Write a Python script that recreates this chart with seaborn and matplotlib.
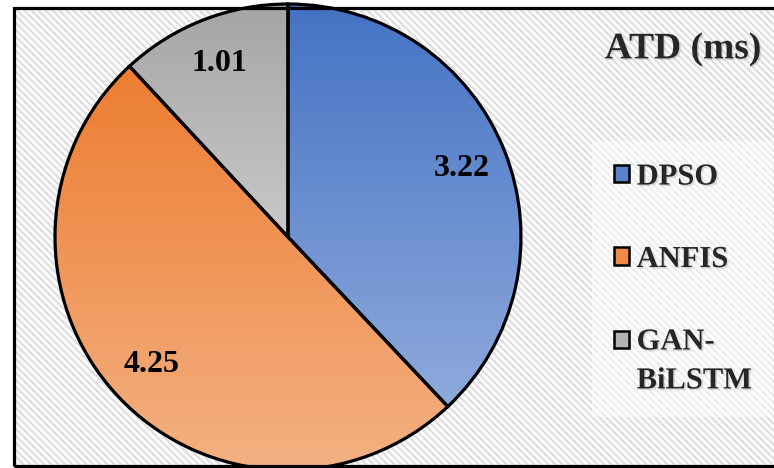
import numpy as np
import matplotlib
matplotlib.use("Agg")
import matplotlib.pyplot as plt
import matplotlib.patheffects as pe
from matplotlib.patches import Patch, Rectangle
from matplotlib.legend_handler import HandlerPatch
import seaborn as sns

# chart data
methods = ["DPSO", "ANFIS", "GAN-BiLSTM"]
legend_labels = ["DPSO", "ANFIS", "GAN-\nBiLSTM"]
atd_ms = [3.22, 4.25, 1.01]
chart_title = "ATD (ms)"

# gradient fill colours for each slice (top -> bottom)
top_colors = ["#4472C4", "#ED7D31", "#A5A5A5"]
bottom_colors = ["#8FAADC", "#F4B183", "#C9C9C9"]
swatch_colors = ["#5A82CC", "#EF8A48", "#B2B2B2"]

sns.set_theme(style="white")
plt.rcParams["font.family"] = ["Liberation Serif", "DejaVu Serif"]
plt.rcParams["font.weight"] = "bold"

W, H = 774, 468
fig = plt.figure(figsize=(W / 100, H / 100), dpi=100)

# striped background inside the frame
bg = fig.add_axes([13 / W, 2 / H, 1 - 13 / W, 459 / H])
yy, xx = np.mgrid[0:459, 0:761]
stripes = np.where((xx - yy) % 7 < 3, 0.875, 0.98)
bg.imshow(stripes, cmap="gray", vmin=0, vmax=1, aspect="auto",
          interpolation="nearest")
bg.set_axis_off()

# pie in pixel-like data coordinates
ax = fig.add_axes([0, 0, 1, 1])
ax.patch.set_alpha(0)
total = sum(atd_ms)
shadow = [pe.withSimplePatchShadow(offset=(1.2, -1.2), shadow_rgbFace="gray",
                                   alpha=0.25)]

wedges, _, autotexts = ax.pie(
    atd_ms, center=(288, 231), radius=233, startangle=90, counterclock=False,
    autopct=lambda p: f"{p * total / 100:.2f}", pctdistance=0.8, frame=True,
    wedgeprops=dict(facecolor="none", edgecolor="black", linewidth=2.3,
                    zorder=3),
    textprops=dict(fontsize=23, fontweight="bold", color="black", zorder=4))

# vertical gradient inside every wedge
for w, c0, c1 in zip(wedges, top_colors, bottom_colors):
    ext = w.get_path().get_extents()
    grad = np.array(sns.blend_palette([c0, c1], n_colors=256))[:, None, :]
    im = ax.imshow(grad, extent=(ext.x0, ext.x1, ext.y0, ext.y1),
                   origin="upper", aspect="auto", zorder=2,
                   interpolation="bilinear")
    im.set_clip_path(w)

ax.set_xlim(0, W)
ax.set_ylim(0, H)
ax.set_axis_off()

# outer frame (open on the right side)
ax.add_patch(Rectangle((13.5, 2), W, 458.5, fill=False, edgecolor="black",
                       linewidth=2.3, zorder=5, clip_on=False))

ax.text(683, H - 49, chart_title, fontsize=27, fontweight="bold",
        ha="center", va="center", zorder=6, path_effects=shadow)


def first_line_square(legend, orig_handle, xdescent, ydescent, width,
                      height, fontsize):
    # keep the square beside the first line of a two-line label
    return Rectangle((-xdescent, -ydescent + 0.72 * fontsize), width, height)


handles = [Patch(facecolor=c, edgecolor="black", linewidth=1.8)
           for c in swatch_colors]
leg = ax.legend(handles, legend_labels, loc="center left",
                bbox_to_anchor=(577 / W, 1 - 279 / H),
                bbox_transform=fig.transFigure,
                prop={"weight": "bold", "size": 22},
                handlelength=0.5, handleheight=0.5, handletextpad=0.25,
                labelspacing=1.75, borderpad=0.7, frameon=True,
                facecolor="white", edgecolor="none", framealpha=0.45,
                fancybox=False,
                handler_map={handles[2]: HandlerPatch(
                    patch_func=first_line_square)})
for t in leg.get_texts():
    t.set_linespacing(1.45)
    t.set_path_effects(shadow)

fig.savefig("out.png", dpi=100)
